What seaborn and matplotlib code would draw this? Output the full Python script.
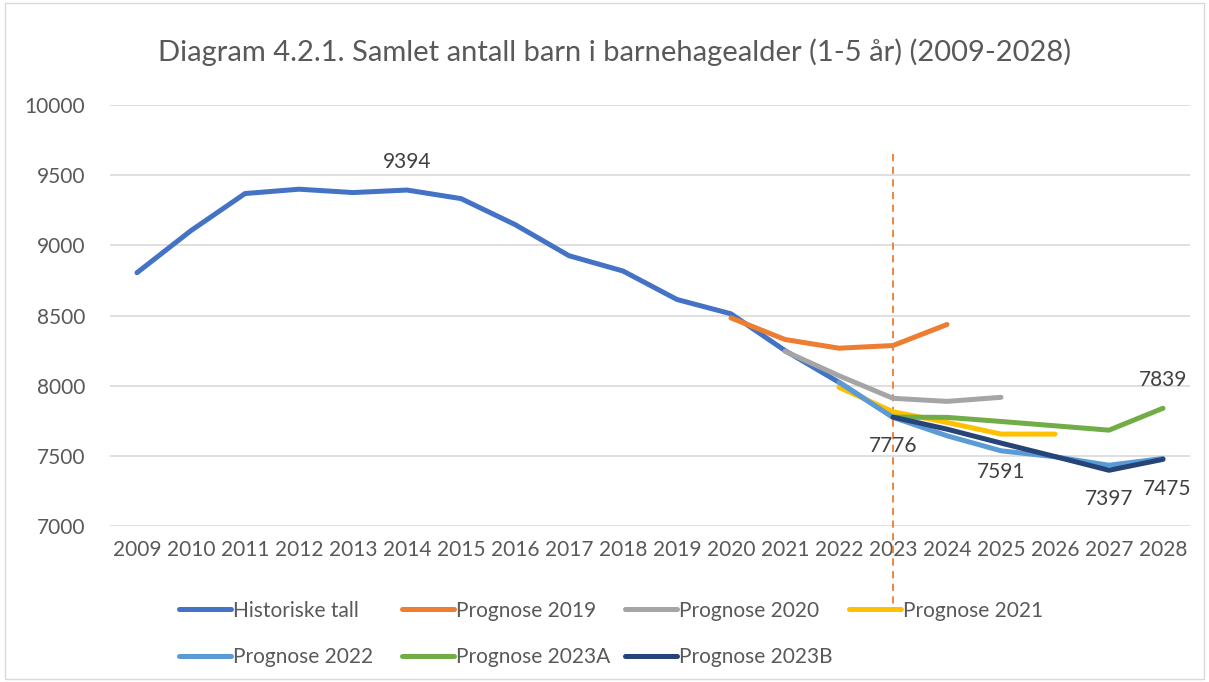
import numpy as np
import pandas as pd
import matplotlib
matplotlib.use("Agg")
import matplotlib.pyplot as plt
import seaborn as sns
from matplotlib.lines import Line2D
from matplotlib.patches import Rectangle

# ---- data ----
years_hist = list(range(2009, 2024))
historiske = [8805, 9105, 9369, 9400, 9376, 9394, 9333, 9148, 8926, 8817, 8614, 8512, 8250, 8024, 7776]
years_p2019 = [2020, 2021, 2022, 2023, 2024]
prognose_2019 = [8483, 8329, 8267, 8286, 8436]
years_p2020 = [2021, 2022, 2023, 2024, 2025]
prognose_2020 = [8245, 8071, 7910, 7888, 7917]
years_p2021 = [2022, 2023, 2024, 2025, 2026]
prognose_2021 = [7988, 7814, 7738, 7655, 7655]
years_p2022 = [2022, 2023, 2024, 2025, 2026, 2027, 2028]
prognose_2022 = [8024, 7774, 7643, 7536, 7493, 7433, 7481]
years_p2023 = [2023, 2024, 2025, 2026, 2027, 2028]
prognose_2023a = [7776, 7774, 7745, 7714, 7683, 7839]
prognose_2023b = [7776, 7690, 7591, 7495, 7397, 7475]

series_names = ["Historiske tall", "Prognose 2019", "Prognose 2020", "Prognose 2021",
                "Prognose 2022", "Prognose 2023A", "Prognose 2023B"]
series_years = [years_hist, years_p2019, years_p2020, years_p2021, years_p2022, years_p2023, years_p2023]
series_vals = [historiske, prognose_2019, prognose_2020, prognose_2021, prognose_2022, prognose_2023a, prognose_2023b]
colors = ["#4472C4", "#ED7D31", "#A5A5A5", "#FFC000", "#5B9BD5", "#70AD47", "#264478"]

# data labels: (year, value, position)
labels = [(2014, 9394, "above"), (2023, 7776, "below"), (2025, 7591, "below"),
          (2027, 7397, "below"), (2028, 7475, "below"), (2028, 7839, "above")]

title = "Diagram 4.2.1. Samlet antall barn i barnehagealder (1-5 år) (2009-2028)"
marker_year = 2023

sns.set_theme(style="white")
plt.rcParams['font.family'] = ['Lato', 'DejaVu Sans']

fig = plt.figure(figsize=(12.09, 6.82), dpi=100)
ax = fig.add_axes([110/1209, 1-526/682, 1080/1209, 421/682])

rows = []
for name, yrs, vals in zip(series_names, series_years, series_vals):
    for y, v in zip(yrs, vals):
        rows.append({"serie": name, "year": y, "value": v})
df = pd.DataFrame(rows)

for name, col in zip(series_names, colors):
    sub = df[df["serie"] == name]
    sns.lineplot(data=sub, x="year", y="value", ax=ax, color=col, linewidth=3.6,
                 solid_capstyle="round", solid_joinstyle="round", legend=False)

ax.set_xlim(2008.5, 2028.5)
ax.set_ylim(7000, 10000)
ax.set_yticks(np.arange(7000, 10001, 500))
ax.set_xticks(range(2009, 2029))
ax.set_xticklabels([str(y) for y in range(2009, 2029)])
ax.set_xlabel("")
ax.set_ylabel("")
ax.yaxis.grid(True, color="#D9D9D9", linewidth=1.2)
ax.xaxis.grid(False)
for s in ax.spines.values():
    s.set_visible(False)
ax.tick_params(axis="both", length=0, labelsize=15, labelcolor="#595959")
ax.tick_params(axis="y", pad=18)
ax.tick_params(axis="x", pad=10)

# vertical dashed marker line
ax.plot([marker_year, marker_year], [9650, 6420], color="#ED7D31", linestyle=(0, (4, 3)),
        linewidth=1.3, clip_on=False, zorder=1)

for (yr, val, pos) in labels:
    off = 20 if pos == "above" else -21
    xoff = 3 if (yr == 2028 and pos == "below") else 0
    ax.annotate(str(val), (yr, val), xytext=(xoff, off), textcoords="offset points",
                ha="center", va="center", fontsize=15, color="#404040")

fig.text(615/1209, 1-52/682, title, fontsize=21, color="#595959", ha="center", va="center")

handles = [Line2D([0], [0], color=c, linewidth=3.6, solid_capstyle="round") for c in colors]
col_x = [160, 383, 606, 830]
col_items = [[0, 4], [1, 5], [2, 6], [3]]
for cx, items in zip(col_x, col_items):
    fig.legend([handles[i] for i in items], [series_names[i] for i in items],
               loc="upper left", bbox_to_anchor=(cx/1209, 1-582/682), ncol=1, frameon=False,
               fontsize=15, handlelength=2.5, handletextpad=0.1,
               labelspacing=1.25, labelcolor="#595959")

fig.add_artist(Rectangle((0.004, 0.004), 0.992, 0.992, transform=fig.transFigure,
                         fill=False, edgecolor="#D9D9D9", linewidth=1))

fig.savefig("out.png", dpi=100)
